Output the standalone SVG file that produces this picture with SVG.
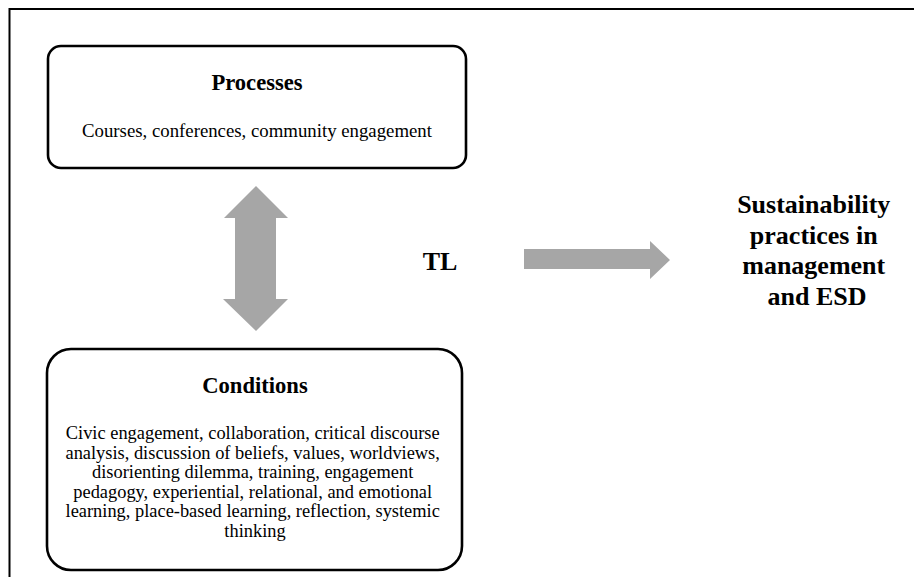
<svg xmlns="http://www.w3.org/2000/svg" width="914" height="577" viewBox="0 0 914 577">
<style>
.box{fill:#fff;stroke:#000;stroke-width:2.6}
.title{font-weight:bold;font-size:22.6px;text-anchor:middle;fill:#000}
.body{font-size:18.8px;text-anchor:middle;fill:#000}
.cond{font-size:18.4px;text-anchor:middle;fill:#000}
.big{font-weight:bold;font-size:26px;text-anchor:middle;fill:#000}
.arrow{fill:#a6a6a6;stroke:none}
</style>
<rect x="0" y="0" width="914" height="577" fill="#fff"/>
<path d="M9.5,577 V9 H914" fill="none" stroke="#000" stroke-width="2"/>
<g font-family="Liberation Serif, Tinos, Times New Roman, Times, DejaVu Serif, serif">
<g id="processes">
<rect class="box" x="48" y="46" width="418" height="122" rx="13"/>
<text class="title" x="257" y="90">Processes</text>
<text class="body" x="257" y="137">Courses, conferences, community engagement</text>
</g>
<g id="conditions">
<rect class="box" x="47" y="349" width="415" height="221" rx="24"/>
<text class="title" x="255" y="393">Conditions</text>
<text class="cond" x="255" y="439">
<tspan x="255" dy="0">Civic engagement, collaboration, critical discourse</tspan>
<tspan x="255" dy="19.6">analysis, discussion of beliefs, values, worldviews,</tspan>
<tspan x="255" dy="19.6">disorienting dilemma, training, engagement</tspan>
<tspan x="255" dy="19.6">pedagogy, experiential, relational, and emotional</tspan>
<tspan x="255" dy="19.6">learning, place-based learning, reflection, systemic</tspan>
<tspan x="255" dy="19.6">thinking</tspan>
</text>
</g>
<g id="tl">
<text class="big" x="440" y="270">TL</text>
</g>
<g id="outcome">
<text class="big" x="817" y="213">
<tspan x="817" dy="0">Sustainability</tspan>
<tspan x="817" dy="30.5">practices in</tspan>
<tspan x="817" dy="30.5">management</tspan>
<tspan x="817" dy="30.5">and ESD</tspan>
</text>
</g>
</g>
<g id="connectors">
<polygon class="arrow" points="256,186 288,218 276,218 276,299 288,299 256,331 223,299 235,299 235,218 224,218"/>
<polygon class="arrow" points="524,249 650,249 650,241 670,260 650,279 650,269 524,269"/>
</g>
</svg>
